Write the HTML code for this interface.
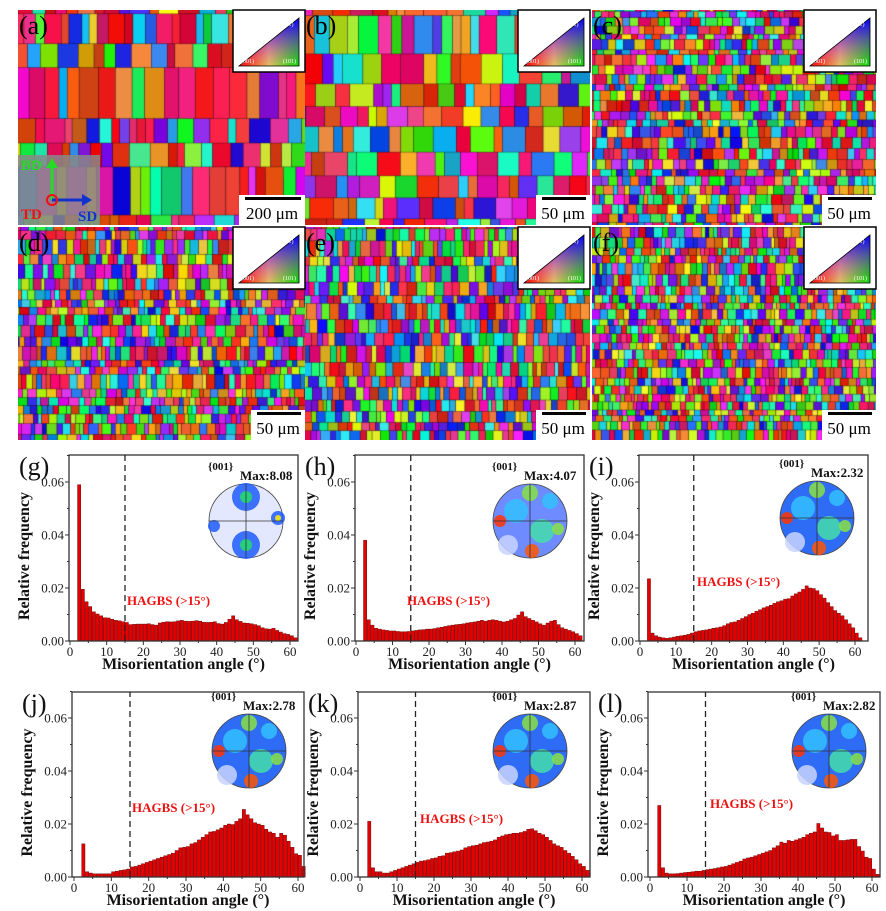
<!DOCTYPE html>
<html><head><meta charset="utf-8"><style>
body{margin:0;width:886px;height:911px;background:#fff;overflow:hidden;position:relative;font-family:"Liberation Serif",serif}
canvas{position:absolute}
#ov{position:absolute;left:0;top:0}
</style></head><body>
<canvas id="ma" style="left:18px;top:10px" width="287" height="215"></canvas>
<canvas id="mb" style="left:305px;top:10px" width="285" height="215"></canvas>
<canvas id="mc" style="left:592px;top:10px" width="284" height="215"></canvas>
<canvas id="md" style="left:18px;top:227px" width="287" height="213"></canvas>
<canvas id="me" style="left:305px;top:227px" width="285" height="213"></canvas>
<canvas id="mf" style="left:592px;top:227px" width="284" height="213"></canvas>
<svg id="ov" width="886" height="911" font-family="Liberation Serif, serif"></svg>
<script>
// ---- histogram data: bins 2..61 deg ----
const binStart = 2;
const xTicks = [0,10,20,30,40,50,60];
const yTicks = [0,0.02,0.04,0.06];
const yTickLabels = ["0.00","0.02","0.04","0.06"];
const dataG = [0.059,0.0195,0.0148,0.013,0.011,0.0102,0.0095,0.0088,0.0087,0.0082,0.0078,0.0076,0.0073,0.0070,0.0062,0.0063,0.0064,0.0064,0.0064,0.0065,0.0062,0.0060,0.0068,0.0071,0.0073,0.0072,0.0073,0.0076,0.0078,0.0075,0.0074,0.0075,0.0077,0.0075,0.0071,0.0070,0.0071,0.0073,0.0066,0.0064,0.0070,0.0082,0.0095,0.0080,0.0074,0.0068,0.0067,0.0065,0.0062,0.0058,0.0050,0.0046,0.0045,0.0048,0.0040,0.0034,0.0028,0.0025,0.0020,0.0012];
const dataH = [0.038,0.008,0.006,0.0048,0.0045,0.0042,0.004,0.0038,0.0038,0.0036,0.0035,0.0035,0.0036,0.0038,0.004,0.0042,0.0043,0.0045,0.0045,0.0047,0.005,0.0052,0.0055,0.0058,0.006,0.0062,0.0063,0.0065,0.0068,0.007,0.0072,0.0075,0.0078,0.0075,0.0078,0.008,0.0078,0.0075,0.0072,0.0075,0.008,0.0085,0.0098,0.011,0.0092,0.0085,0.0078,0.0072,0.0065,0.006,0.0068,0.0075,0.0078,0.0062,0.005,0.0045,0.004,0.0035,0.0028,0.002];
const dataI = [0.0235,0.003,0.002,0.0015,0.0012,0.001,0.0012,0.0015,0.0018,0.002,0.0022,0.0025,0.003,0.0035,0.0038,0.004,0.0042,0.0045,0.0048,0.005,0.0053,0.0058,0.0065,0.0070,0.0072,0.0078,0.0085,0.0092,0.0100,0.0105,0.0112,0.0118,0.0125,0.0130,0.0135,0.0142,0.0148,0.0152,0.0158,0.0160,0.0170,0.0178,0.0185,0.0195,0.0208,0.0200,0.0198,0.0190,0.0175,0.0162,0.0145,0.0130,0.0115,0.0105,0.0095,0.0080,0.0065,0.0050,0.0030,0.0012];
const dataJ = [0.0125,0.002,0.0015,0.0012,0.0012,0.0012,0.0012,0.0012,0.002,0.0022,0.0025,0.0027,0.003,0.0038,0.004,0.0045,0.005,0.0055,0.006,0.0065,0.007,0.0075,0.008,0.0085,0.009,0.01,0.011,0.0112,0.0115,0.0125,0.013,0.014,0.015,0.016,0.017,0.0172,0.0178,0.0185,0.0195,0.02,0.0198,0.021,0.022,0.0255,0.0235,0.022,0.0205,0.02,0.0195,0.018,0.017,0.0165,0.015,0.0165,0.0158,0.0135,0.0112,0.0088,0.0082,0.004];
const dataK = [0.021,0.0035,0.002,0.002,0.0015,0.0015,0.002,0.0025,0.003,0.0035,0.004,0.0045,0.005,0.0055,0.006,0.0062,0.0065,0.007,0.0072,0.0078,0.008,0.009,0.0092,0.0095,0.0098,0.0102,0.011,0.0115,0.0118,0.012,0.0125,0.013,0.0132,0.0135,0.014,0.015,0.0155,0.016,0.0162,0.0165,0.0165,0.0168,0.0172,0.018,0.0182,0.0175,0.0165,0.016,0.015,0.0138,0.0125,0.0118,0.0112,0.01,0.009,0.0078,0.0065,0.005,0.004,0.0025];
const dataL = [0.027,0.0035,0.0015,0.0012,0.0012,0.0013,0.0015,0.0017,0.0018,0.002,0.0022,0.0022,0.0025,0.0028,0.003,0.0032,0.0035,0.0038,0.004,0.0045,0.005,0.0055,0.006,0.0068,0.0072,0.0075,0.008,0.0085,0.009,0.0095,0.01,0.011,0.0118,0.0132,0.0128,0.0138,0.0135,0.014,0.0145,0.015,0.016,0.0165,0.017,0.0202,0.0185,0.017,0.0168,0.0155,0.016,0.0138,0.0138,0.014,0.0142,0.0142,0.0115,0.0098,0.0075,0.007,0.003,0.001];
const maxLabels = ["8.08","4.07","2.32","2.78","2.87","2.82"];
const panelIds = ["g","h","i","j","k","l"];
const panelData = [dataG,dataH,dataI,dataJ,dataK,dataL];

const NS="http://www.w3.org/2000/svg";
const ov=document.getElementById('ov');
function mk(tag,attrs,parent,txt){const e=document.createElementNS(NS,tag);for(const k in attrs)e.setAttribute(k,attrs[k]);if(txt!==undefined)e.textContent=txt;(parent||ov).appendChild(e);return e;}

const geo=[
 {x0:70,x60:290,y0:641,y06:482,top:455,L:69,R:298,hx:127,hy:605,pc:[246,521],pf:'light'},
 {x0:356,x60:575,y0:641,y06:482,top:455,L:355,R:584,hx:407,hy:605,pc:[530,521],pf:'mid'},
 {x0:640,x60:855,y0:641,y06:482,top:455,L:639,R:868,hx:697,hy:586,pc:[817,518],pf:'blue'},
 {x0:74,x60:298,y0:877,y06:718,top:692,L:72,R:304,hx:132,hy:812,pc:[249,751],pf:'blue'},
 {x0:360,x60:582,y0:877,y06:718,top:692,L:358,R:590,hx:420,hy:823,pc:[530,751],pf:'blue'},
 {x0:650,x60:872,y0:877,y06:718,top:692,L:648,R:880,hx:710,hy:808,pc:[829,751],pf:'blue'}
];

panelData.forEach((vals,p)=>{
  const g=geo[p];
  const sx=a=>g.x0+(g.x60-g.x0)*a/60;
  const sy=v=>g.y0-(g.y0-g.y06)*v/0.06;
  const grp=mk('g',{});
  
  
  vals.forEach((v,i)=>{
    const a=binStart+i;
    const r=mk('rect',{x:sx(a)+0.2,y:sy(v),width:sx(a+1)-sx(a)-0.4,height:g.y0-sy(v),fill:'#e20000',stroke:'#5a0000','stroke-width':0.4},grp);
    
    
  });
  const fr=mk('rect',{x:g.L,y:g.top,width:g.R-g.L,height:g.y0-g.top,fill:'none',stroke:'#333','stroke-width':1.3});
  
  
  xTicks.forEach(t=>{
    mk('line',{x1:sx(t),x2:sx(t),y1:g.y0,y2:g.y0+4,stroke:'#333'});
    const tl=mk('text',{x:sx(t),y:g.y0+15,'font-size':13,'text-anchor':'middle',fill:'#222'},ov,String(t));
    
    
    if(t<60) mk('line',{x1:sx(t+5),x2:sx(t+5),y1:g.y0,y2:g.y0+2,stroke:'#333'});
  });
  yTicks.forEach((t,i)=>{
    mk('line',{x1:g.L-4,x2:g.L,y1:sy(t),y2:sy(t),stroke:'#333'});
    mk('line',{x1:g.L-2,x2:g.L,y1:sy(t+0.01),y2:sy(t+0.01),stroke:'#333'});
    const tl=mk('text',{x:g.L-5,y:sy(t)+4.5,'font-size':13,'text-anchor':'end',fill:'#222'},ov,yTickLabels[i]);
    
    
  });
  mk('line',{x1:sx(15),x2:sx(15),y1:g.y0,y2:g.top,stroke:'#222','stroke-width':1.3,'stroke-dasharray':'6,4'});
  const hg=mk('text',{x:g.hx,y:g.hy,'font-size':13,'font-weight':'bold',fill:'#ee1111'},ov,'HAGBS (>15°)');
  
  
  const xt=mk('text',{x:(g.L+g.R)/2,y:g.y0+28,'font-size':16,'font-weight':'bold','text-anchor':'middle',fill:'#111'},ov,'Misorientation angle (°)');
  
  
  const yx=g.L-40, yy=(g.y0+g.top)/2+8;
  const yt=mk('text',{x:yx,y:yy,'font-size':16,'font-weight':'bold','text-anchor':'middle',fill:'#111',transform:`rotate(-90 ${yx} ${yy})`},ov,'Relative frequency');
  
  
  const pl=mk('text',{x:g.L-50,y:g.top+20,'font-size':26,fill:'#111'},ov,'('+panelIds[p]+')');
  
  
  const [cx,cy]=g.pc, R=37;
  const pf=mk('g',{});
  
  
  const base=g.pf==='light'?'#e4e8ff':(g.pf==='mid'?'#6e8cff':'#2f6cf5');
  mk('circle',{cx,cy,r:R,fill:base,stroke:'#444','stroke-width':0.8},pf);
  const blobs=g.pf==='light'?[[0,-24,14,'#1f5cff'],[0,24,14,'#1f5cff'],[-32,5,6,'#1f5cff'],[32,-3,7,'#1f5cff'],[0,-24,6,'#22dd66'],[0,24,6,'#22dd66'],[32,-3,3,'#ffee00']]
   :[[-14,-10,12,'#33c0ff'],[12,10,12,'#44ddaa'],[0,-28,8,'#88e044'],[-30,0,6,'#ff3300'],[2,30,7,'#ff5500'],[-22,24,10,'#c8d4ff'],[20,-20,8,'#33c0ff'],[28,8,6,'#88e044']];
  blobs.forEach(b=>mk('circle',{cx:cx+b[0],cy:cy+b[1],r:b[2],fill:b[3],opacity:0.85},pf));
  mk('line',{x1:cx-R,x2:cx+R,y1:cy,y2:cy,stroke:'#333','stroke-width':0.8},pf);
  mk('line',{x1:cx,x2:cx,y1:cy-R,y2:cy+R,stroke:'#333','stroke-width':0.8},pf);
  const t1=mk('text',{x:cx-38,y:cy-R-14,'font-size':11,'font-weight':'bold',fill:'#111'},ov,'{001}');
  
  
  const t2=mk('text',{x:cx-6,y:cy-R-4,'font-size':13,'font-weight':'bold',fill:'#111'},ov,'Max:'+maxLabels[p]);
  
  
});

// ---- EBSD maps (procedural grain mosaic) ----
function rng(s){return function(){s|=0;s=s+0x6D2B79F5|0;let t=Math.imul(s^s>>>15,1|s);t=t+Math.imul(t^t>>>7,61|t)^t;return((t^t>>>14)>>>0)/4294967296;}}
function drawMap(id,seed,cw,ch,redBias){
  const c=document.getElementById(id),x=c.getContext('2d'),r=rng(seed);
  const W=c.width,H=c.height;
  x.fillStyle='#b04080';x.fillRect(0,0,W,H);
  for(let yy=-ch;yy<H;){
    const rh=ch*(0.6+r()*0.8);
    for(let xx=-r()*cw;xx<W;){
      const w=cw*(0.5+r()*1.0);
      let hue;
      if(r()<redBias) hue=(330+r()*60)%360; else hue=r()*360;
      const l=42+r()*18;
      x.fillStyle=`hsl(${hue},${75+r()*25}%,${l}%)`;
      const h=rh*(1.0+r()*0.6);
      x.fillRect(xx,yy,w,h);
      x.strokeStyle='rgba(0,0,0,0.6)';x.lineWidth=0.5;x.strokeRect(xx,yy,w,h);
      xx+=w;
    }
    yy+=rh;
  }
}
drawMap('ma',1,14,38,0.5);
drawMap('mb',2,16,30,0.2);
drawMap('mc',3,8,8,0.15);
drawMap('md',4,7,11,0.15);
drawMap('me',5,7,12,0.15);
drawMap('mf',6,6,9,0.15);

const maps=[[18,10,287,215,'a','200 μm'],[305,10,285,215,'b','50 μm'],[592,10,284,215,'c','50 μm'],[18,227,287,213,'d','50 μm'],[305,227,285,213,'e','50 μm'],[592,227,284,213,'f','50 μm']];
let gid=0;
maps.forEach(m=>{
  const [X,Y,W,H,lab,sb]=m;
  const ix=X+W-72, iy=Y;
  const ib=mk('rect',{x:ix,y:iy,width:72,height:62,fill:'#fff',stroke:'#000','stroke-width':1.5});
  
  
  const gd=mk('linearGradient',{id:'gr'+gid,x1:0,y1:0,x2:1,y2:0});
  mk('stop',{offset:0,'stop-color':'#ff0000'},gd);mk('stop',{offset:0.5,'stop-color':'#e0c060'},gd);mk('stop',{offset:1,'stop-color':'#00dd00'},gd);
  const gb=mk('linearGradient',{id:'gb'+gid,x1:0,y1:1,x2:0,y2:0});
  mk('stop',{offset:0,'stop-color':'#ff00ff','stop-opacity':0},gb);mk('stop',{offset:1,'stop-color':'#0000ff','stop-opacity':1},gb);
  const pts=`${ix+6},${iy+56} ${ix+66},${iy+56} ${ix+66},${iy+8}`;
  mk('polygon',{points:pts,fill:`url(#gr${gid})`});
  mk('polygon',{points:pts,fill:`url(#gb${gid})`,stroke:'#000','stroke-width':0.8});
  mk('text',{x:ix+48,y:iy+16,'font-size':6,fill:'#fff'},ov,'(111)');
  mk('text',{x:ix+8,y:iy+53,'font-size':6,fill:'#fff'},ov,'(001)');
  mk('text',{x:ix+50,y:iy+53,'font-size':6,fill:'#fff'},ov,'(101)');
  gid++;
  const bw=lab==='a'?66:54;
  const sbr=mk('rect',{x:X+W-bw,y:Y+H-30,width:bw,height:30,fill:'#fff'});
  
  
  mk('rect',{x:X+W-bw+6,y:Y+H-28,width:bw-10,height:3,fill:'#000'});
  mk('text',{x:X+W-bw/2,y:Y+H-6,'font-size':17,'text-anchor':'middle',fill:'#000'},ov,sb);
  const pl=mk('text',{x:X+1,y:Y+24,'font-size':26,fill:'#000'},ov,'('+lab+')');
  
  
});
const ci=mk('rect',{x:18,y:155,width:82,height:70,fill:'#888','fill-opacity':0.85});


mk('line',{x1:52,y1:200,x2:52,y2:165,stroke:'#22dd22','stroke-width':3});
mk('polygon',{points:'46,168 58,168 52,158',fill:'#22dd22'});
mk('line',{x1:52,y1:200,x2:84,y2:200,stroke:'#1133cc','stroke-width':3});
mk('polygon',{points:'82,194 82,206 92,200',fill:'#1133cc'});
mk('circle',{cx:52,cy:200,r:5,fill:'none',stroke:'#ee1111','stroke-width':2});
mk('text',{x:21,y:170,'font-size':15,'font-weight':'bold',fill:'#22dd22'},ov,'BD');
mk('text',{x:21,y:219,'font-size':15,'font-weight':'bold',fill:'#ee1111'},ov,'TD');
mk('text',{x:78,y:221,'font-size':15,'font-weight':'bold',fill:'#1133cc'},ov,'SD');
</script>
</body></html>
